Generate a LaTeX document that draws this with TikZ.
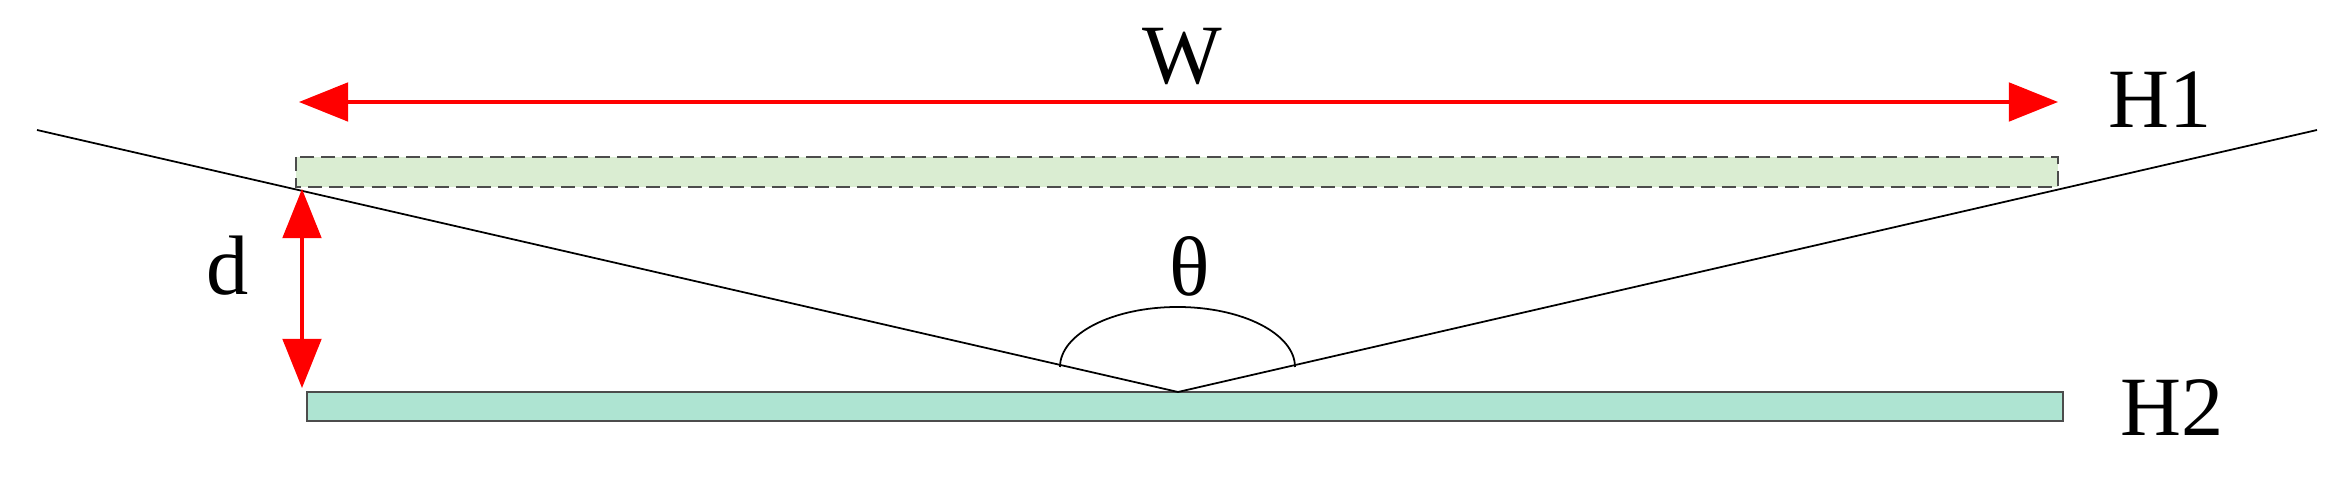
\documentclass[tikz,border=0pt]{standalone}
\usepackage{fontspec}
\setmainfont{Liberation Serif}
\usetikzlibrary{arrows.meta}
\definecolor{lgreen}{RGB}{218,237,210}
\definecolor{teal2}{RGB}{174,228,210}
\begin{document}
\begin{tikzpicture}[x=0.01cm,y=-0.01cm,
  lbl/.style={font=\fontsize{24}{28}\selectfont,inner sep=0pt},
  redarr/.style={red,line width=0.9pt,{Triangle[length=14pt,width=11pt]}-{Triangle[length=14pt,width=11pt]}},
  ray/.style={black,line width=0.5pt}]
\useasboundingbox (0,0) rectangle (2335,486);
\fill[lgreen] (296,157) rectangle (2058,187);
\draw[black!70,line width=0.6pt,dash pattern=on 4pt off 2pt] (296,157) rectangle (2058,187);
\filldraw[fill=teal2,draw=black!70,line width=0.7pt] (307,392) rectangle (2063,421);
\coordinate (L) at (37,130);
\coordinate (V) at (1178,392);
\coordinate (R) at (2317,130);
\draw[ray] (L) -- (V) -- (R);
\draw[ray] (1060,367) arc[start angle=180,end angle=360,x radius=117.5,y radius=60];
\coordinate (wl) at (299,102);
\coordinate (wr) at (2058,102);
\draw[redarr] (wl) -- (wr);
\coordinate (dt) at (302,189);
\coordinate (db) at (302,388);
\draw[redarr] (dt) -- (db);
\node[lbl] (W) at (1182,57) {W};
\node[lbl] (H1) at (2160,100) {H1};
\node[lbl] (H2) at (2172,408) {H2};
\node[lbl] (d) at (228,266) {d};
\node[lbl] (th) at (1190,266) {θ};
\end{tikzpicture}
\end{document}
